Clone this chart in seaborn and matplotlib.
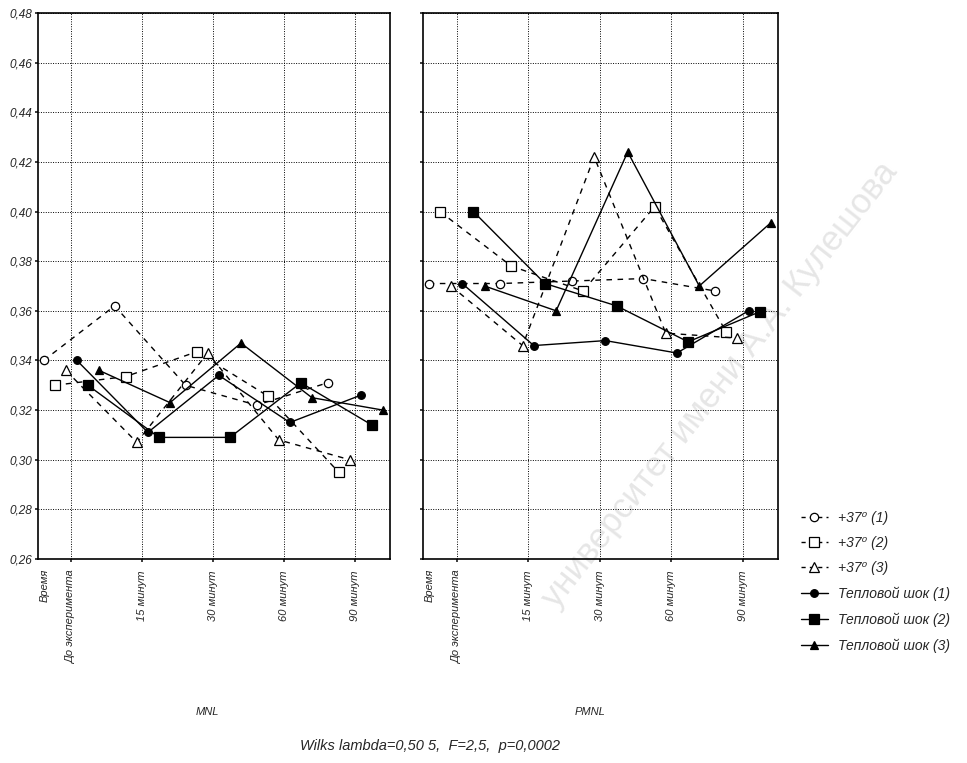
import pandas as pd
import matplotlib
matplotlib.use("Agg")
import matplotlib.pyplot as plt
import matplotlib.ticker as mticker
from matplotlib.lines import Line2D
import seaborn as sns

# ── Data ─────────────────────────────────────────────────────────────────────
TIMES = ["До эксперимента", "15 минут", "30 минут", "60 минут", "90 минут"]
GROUPS = ["+37⁰ (1)", "+37⁰ (2)", "+37⁰ (3)",
          "Тепловой шок (1)", "Тепловой шок (2)", "Тепловой шок (3)"]
PANELS = ["MNL", "PMNL"]

mnl_37_1 = [0.340, 0.362, 0.330, 0.322, 0.331]
mnl_37_2 = [0.330, 0.3335, 0.3435, 0.3257, 0.295]
mnl_37_3 = [0.336, 0.307, 0.343, 0.308, 0.300]
mnl_hs_1 = [0.340, 0.311, 0.334, 0.315, 0.326]
mnl_hs_2 = [0.330, 0.309, 0.309, 0.331, 0.314]
mnl_hs_3 = [0.336, 0.323, 0.347, 0.325, 0.320]

pmnl_37_1 = [0.371, 0.371, 0.372, 0.373, 0.368]
pmnl_37_2 = [0.400, 0.378, 0.368, 0.402, 0.3515]
pmnl_37_3 = [0.370, 0.346, 0.422, 0.351, 0.349]
pmnl_hs_1 = [0.371, 0.346, 0.348, 0.343, 0.360]
pmnl_hs_2 = [0.400, 0.371, 0.362, 0.3475, 0.3596]
pmnl_hs_3 = [0.370, 0.360, 0.424, 0.370, 0.3955]

Y_TICKS = [0.26, 0.28, 0.30, 0.32, 0.34, 0.36, 0.38, 0.40, 0.42, 0.44, 0.46, 0.48]

SERIES = {
    "MNL": [mnl_37_1, mnl_37_2, mnl_37_3, mnl_hs_1, mnl_hs_2, mnl_hs_3],
    "PMNL": [pmnl_37_1, pmnl_37_2, pmnl_37_3, pmnl_hs_1, pmnl_hs_2, pmnl_hs_3],
}

rows = []
for panel in PANELS:
    for grp, vals in zip(GROUPS, SERIES[panel]):
        for t, v in zip(TIMES, vals):
            rows.append({"panel": panel, "time": t, "group": grp, "value": v})
df = pd.DataFrame(rows)

# ── Style ────────────────────────────────────────────────────────────────────
sns.set_theme(style="ticks")
FONT = ["Liberation Sans Narrow", "Liberation Sans", "DejaVu Sans"]
plt.rcParams["font.family"] = FONT
plt.rcParams["font.style"] = "italic"

MARKERS = ["o", "s", "^", "o", "s", "^"]
LINESTYLES = ["--", "--", "--", "-", "-", "-"]
OPEN = [True, True, True, False, False, False]
MSIZE = [6, 7, 6.5, 5.5, 6.5, 6]

fig = plt.figure(figsize=(9.67, 7.63), dpi=100)

# faint watermark, behind everything
fig.text(720 / 967, 1 - 385 / 763, "университет имени А.А. Кулешова",
         rotation=52, ha="center", va="center", fontsize=25,
         color="#e6e6e6", style="normal", zorder=-1)

ax_l = fig.add_axes([38 / 967, 1 - 559 / 763, 352 / 967, 546 / 763])
ax_r = fig.add_axes([423 / 967, 1 - 559 / 763, 355 / 967, 546 / 763])

for ax, panel in zip([ax_l, ax_r], PANELS):
    ax.patch.set_alpha(0)
    sns.pointplot(
        data=df[df["panel"] == panel], x="time", y="value", hue="group",
        order=TIMES, hue_order=GROUPS, palette=["black"] * 6,
        markers=MARKERS, linestyles=LINESTYLES, dodge=0.78,
        errorbar=None, legend=False, ax=ax, linewidth=1,
    )
    for line, is_open, ms in zip(ax.lines, OPEN, MSIZE):
        line.set_markersize(ms)
        line.set_markeredgewidth(0.9)
        line.set_markeredgecolor("black")
        if is_open:
            line.set_dashes((4, 4))
            line.set_markerfacecolor("white")

    ax.set_xlim(-0.47, 4.49)
    ax.set_ylim(0.26, 0.48)
    ax.set_yticks(Y_TICKS)
    ax.yaxis.set_major_formatter(
        mticker.FuncFormatter(lambda v, _: f"{v:.2f}".replace(".", ",")))
    ax.grid(True, linestyle=(0, (1, 1.5)), color="black", linewidth=0.7)
    ax.set_xlabel("")
    ax.set_ylabel("")
    for sp in ax.spines.values():
        sp.set_visible(True)
        sp.set_linewidth(1.2)
        sp.set_color("black")
    ax.tick_params(axis="x", rotation=90, labelsize=8, length=2, pad=6)
    ax.tick_params(axis="y", labelsize=8.5, length=2, pad=2)
    for lab in ax.get_xticklabels():
        lab.set_verticalalignment("top")
    ax.text(-0.38, -0.018, "Время", transform=ax.get_xaxis_transform(),
            rotation=90, ha="center", va="top", fontsize=8)

ax_r.set_yticklabels([])

# ── Legend ───────────────────────────────────────────────────────────────────
handles = []
for mk, ls, is_open, ms in zip(MARKERS, LINESTYLES, OPEN, MSIZE):
    handles.append(Line2D([], [], color="black", marker=mk, linestyle=ls,
                          linewidth=1, markersize=ms, markeredgewidth=0.9,
                          dashes=(3, 3) if is_open else (None, None),
                          markerfacecolor="white" if is_open else "black"))
fig.legend(handles, GROUPS, loc="upper left", frameon=False,
           bbox_to_anchor=(795 / 967, 1 - 505 / 763), fontsize=10,
           handlelength=2.0, handletextpad=0.7, labelspacing=0.82,
           borderaxespad=0)

# ── Bottom captions ──────────────────────────────────────────────────────────
fig.text(207 / 967, 1 - 712 / 763, "MNL", ha="center", va="center", fontsize=8)
fig.text(590 / 967, 1 - 712 / 763, "PMNL", ha="center", va="center", fontsize=8)
fig.text(430 / 967, 1 - 746 / 763, "Wilks lambda=0,50 5,  F=2,5,  p=0,0002",
         ha="center", va="center", fontsize=10.5)

fig.savefig("out.png", dpi=100)
